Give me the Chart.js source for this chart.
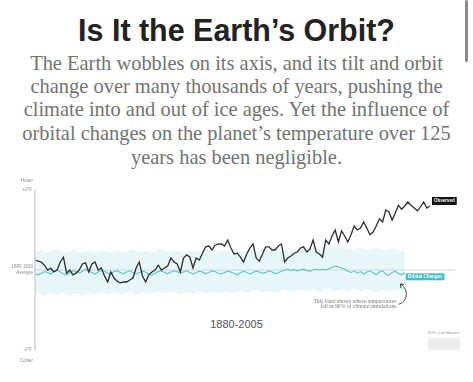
<!DOCTYPE html>
<html><head><meta charset="utf-8">
<script src="https://cdn.jsdelivr.net/npm/chart.js@4"></script>
<style>
html,body{margin:0;padding:0;background:#fff;width:473px;height:382px;overflow:hidden}
#wrap{position:relative;width:473px;height:382px}
.t{position:absolute;left:0;width:473px;text-align:center;white-space:nowrap}
#title{top:12px;font-family:"Liberation Sans",Arial,sans-serif;font-weight:bold;color:#222;line-height:1}
.sub{font-family:"Liberation Serif","DejaVu Serif",serif;color:#737373;line-height:1}
#period{top:318px;font-family:"Liberation Sans",Arial,sans-serif;font-size:11px;color:#555}
#scroll{position:absolute;left:465px;top:0;width:3px;height:62px;background:#8a8a8a;border-radius:2px}
canvas{position:absolute;left:0;top:0}
</style></head>
<body><div id="wrap">
<div id="title" class="t">Is It the Earth’s Orbit?</div>
<div class="t sub" id="s1">The Earth wobbles on its axis, and its tilt and orbit</div>
<div class="t sub" id="s2">change over many thousands of years, pushing the</div>
<div class="t sub" id="s3">climate into and out of ice ages. Yet the influence of</div>
<div class="t sub" id="s4">orbital changes on the planet’s temperature over 125</div>
<div class="t sub" id="s5">years has been negligible.</div>
<div id="period" class="t">1880-2005</div>
<div id="scroll"></div>
<canvas id="c" width="473" height="382"></canvas>
</div>
<script>
// ---- data ----
const startYear = 1880, endYear = 2005;
const years = [];
for (let y = startYear; y <= endYear; y++) years.push(String(y));

// Observed temperature, °F relative to 1880-1910 average
const observed = [
 0.25,0.22,0.2,0.12,0,0.05,-0.05,0,0.2,0.32,
 -0.08,0,-0.12,-0.08,0,0.15,0.18,-0.05,0.15,0.2,
 0,0.05,-0.15,-0.3,-0.05,-0.2,-0.28,-0.32,-0.3,-0.3,
 -0.25,-0.2,0.05,0.2,-0.15,-0.3,-0.12,-0.05,0,0.12,
 0,0.05,0.1,0.3,0.2,0.15,-0.05,0.3,0.38,0.32,
 0.05,0.3,0.25,0.42,0.58,0.6,0.5,0.62,0.65,0.65,
 0.6,0.75,0.55,0.4,0.42,0.32,0.2,0.4,0.55,0.65,
 0.3,0.22,0.4,0.58,0.58,0.5,0.5,0.6,0.65,0.2,
 0.3,0.35,0.42,0.45,0.55,0.58,0.45,0.52,0.75,0.45,
 0.4,0.32,0.75,0.65,0.85,1.0,0.7,0.98,0.85,0.7,
 0.88,1.1,1.0,1.05,1.2,1.05,0.88,0.95,1.1,1.28,
 1.2,1.5,1.45,1.25,1.42,1.62,1.52,1.6,1.7,1.62,
 1.55,1.48,1.58,1.7,1.55,1.6
];

// Modelled temperature from orbital changes alone (1880-1997)
const orbital = [
 -0.1,-0.12,-0.08,-0.04,-0.06,-0.1,-0.02,0.0,-0.05,-0.1,
 -0.12,-0.06,-0.02,-0.04,-0.08,-0.03,0.02,-0.02,-0.06,-0.1,
 -0.05,0.0,-0.03,-0.08,-0.1,-0.04,-0.02,-0.06,-0.09,-0.05,
 -0.02,-0.06,-0.1,-0.07,-0.03,-0.05,-0.1,-0.13,-0.08,-0.04,
 -0.02,-0.06,-0.09,-0.05,-0.02,-0.04,-0.08,-0.05,-0.02,-0.06,
 -0.1,-0.07,-0.03,-0.05,-0.09,-0.06,-0.02,-0.04,-0.08,-0.1,
 -0.06,-0.03,-0.05,-0.09,-0.12,-0.07,-0.03,-0.06,-0.1,-0.06,
 -0.03,-0.05,-0.08,-0.06,-0.02,-0.05,-0.09,-0.07,-0.03,0.0,
 0.02,-0.01,0.01,-0.02,0.0,0.02,-0.01,-0.03,0.0,0.02,
 0.0,0.02,0.0,0.03,0.06,0.1,0.08,0.05,0.02,-0.03,
 -0.06,-0.02,-0.08,-0.04,-0.1,-0.05,-0.02,-0.07,-0.12,-0.05,
 -0.02,-0.1,-0.13,-0.06,-0.03,-0.09,-0.12,-0.07
];

// 90% confidence band of climate simulations
const bandHigh = [
 0.45,0.48,0.5,0.47,0.44,0.46,0.5,0.52,0.49,0.46,
 0.44,0.47,0.5,0.48,0.45,0.43,0.46,0.5,0.49,0.46,
 0.48,0.51,0.49,0.45,0.44,0.47,0.5,0.48,0.45,0.47,
 0.5,0.52,0.48,0.45,0.46,0.49,0.47,0.44,0.46,0.5,
 0.52,0.49,0.46,0.48,0.51,0.49,0.46,0.44,0.47,0.5,
 0.48,0.45,0.47,0.5,0.53,0.5,0.47,0.45,0.48,0.51,
 0.49,0.46,0.48,0.52,0.5,0.47,0.45,0.48,0.5,0.47,
 0.45,0.48,0.51,0.49,0.46,0.49,0.52,0.5,0.48,0.51,
 0.53,0.55,0.52,0.5,0.53,0.56,0.58,0.55,0.52,0.5,
 0.54,0.57,0.6,0.58,0.55,0.57,0.6,0.56,0.53,0.55,
 0.52,0.5,0.53,0.56,0.54,0.51,0.49,0.52,0.55,0.53,
 0.5,0.48,0.51,0.54,0.52,0.49,0.47,0.5
];
const bandLow = [
 -0.6,-0.58,-0.62,-0.65,-0.6,-0.57,-0.6,-0.63,-0.59,-0.56,
 -0.6,-0.64,-0.61,-0.58,-0.6,-0.63,-0.6,-0.57,-0.59,-0.62,
 -0.58,-0.55,-0.58,-0.61,-0.59,-0.56,-0.58,-0.62,-0.6,-0.57,
 -0.55,-0.58,-0.61,-0.58,-0.55,-0.57,-0.6,-0.58,-0.55,-0.53,
 -0.56,-0.59,-0.57,-0.54,-0.56,-0.59,-0.61,-0.58,-0.55,-0.57,
 -0.6,-0.57,-0.54,-0.56,-0.59,-0.56,-0.53,-0.55,-0.58,-0.56,
 -0.53,-0.55,-0.58,-0.56,-0.53,-0.51,-0.54,-0.57,-0.55,-0.52,
 -0.5,-0.53,-0.56,-0.54,-0.51,-0.53,-0.56,-0.54,-0.51,-0.49,
 -0.52,-0.55,-0.53,-0.5,-0.48,-0.51,-0.54,-0.52,-0.49,-0.51,
 -0.54,-0.52,-0.49,-0.47,-0.5,-0.53,-0.51,-0.48,-0.5,-0.53,
 -0.5,-0.47,-0.5,-0.53,-0.51,-0.48,-0.5,-0.53,-0.55,-0.52,
 -0.49,-0.51,-0.54,-0.52,-0.49,-0.51,-0.54,-0.52
];

const yTickValues = [2, 0, -2];
const yTickLabels = [["Hotter", "+2°F"], ["1880-1910", "Average"], ["-2°F", "Colder"]];
const annotationLines = ["This band shows where temperatures", "fall in 90% of climate simulations"];

// ---- fit header text widths ----
function fit(id, targetW, family, weight, top) {
  const el = document.getElementById(id);
  const cv = document.createElement('canvas').getContext('2d');
  cv.font = weight + ' 100px ' + family;
  const w = cv.measureText(el.textContent).width;
  el.style.fontSize = (100 * targetW / w) + 'px';
  el.style.top = top + 'px';
}
fit('title', 317, '"Liberation Sans"', 'bold', 15);
const subFS = (() => {
  const cv = document.createElement('canvas').getContext('2d');
  cv.font = '100px "Liberation Serif"';
  return 100 * 413 / cv.measureText(document.getElementById('s1').textContent).width;
})();
const subTops = [53, 76, 99, 123, 147];
['s1','s2','s3','s4','s5'].forEach((id, i) => {
  const el = document.getElementById(id);
  el.style.fontSize = subFS + 'px';
  el.style.top = subTops[i] + 'px';
});

// ---- decorations plugin ----
const deco = {
  id: 'deco',
  beforeDatasetsDraw(chart) {
    const ctx = chart.ctx, xs = chart.scales.x, ys = chart.scales.y;
    ctx.save();
    ctx.strokeStyle = '#cfcfcf'; ctx.lineWidth = 0.8;
    ctx.beginPath(); ctx.moveTo(xs.left, ys.getPixelForValue(0)); ctx.lineTo(xs.right + 25, ys.getPixelForValue(0)); ctx.stroke();
    ctx.restore();
  },
  afterDatasetsDraw(chart) {
    const ctx = chart.ctx, xs = chart.scales.x, ys = chart.scales.y;
    const x0 = xs.left;
    ctx.save();
    // vertical axis
    ctx.strokeStyle = '#d0d0d0'; ctx.lineWidth = 1.5;
    ctx.beginPath(); ctx.moveTo(x0, ys.getPixelForValue(2)); ctx.lineTo(x0, ys.getPixelForValue(-2)); ctx.stroke();
    // y labels
    ctx.fillStyle = '#8a8a8a'; ctx.font = '4.5px "Liberation Sans"'; ctx.textAlign = 'right'; ctx.textBaseline = 'middle';
    yTickValues.forEach((v, i) => {
      const py = ys.getPixelForValue(v);
      const lab = yTickLabels[i];
      if (v > 0) { ctx.fillText(lab[0], x0 - 2, py - 9); ctx.fillText(lab[1], x0 - 3, py); }
      else if (v < 0) { ctx.fillText(lab[0], x0 - 3, py); ctx.fillText(lab[1], x0 - 2, py + 11); }
      else { ctx.fillText(lab[0], x0 - 2, py - 3.5); ctx.fillText(lab[1], x0 - 2, py + 2.5); }
    });
    // Observed label
    const mo = chart.getDatasetMeta(3).data;
    const lo = mo[mo.length - 1];
    ctx.font = 'bold 4.5px "Liberation Sans"'; ctx.textAlign = 'left';
    let tw = ctx.measureText('Observed').width;
    ctx.fillStyle = '#111';
    ctx.fillRect(lo.x + 2, lo.y - 9, tw + 4, 8);
    ctx.fillStyle = '#fff'; ctx.fillText('Observed', lo.x + 4, lo.y - 5);
    // Orbital label
    const mr = chart.getDatasetMeta(2).data;
    const lr = mr[mr.length - 1];
    tw = ctx.measureText('Orbital Changes').width;
    ctx.fillStyle = '#3fc1cd';
    ctx.fillRect(lr.x + 1, lr.y + 0.5, tw + 4, 7);
    ctx.fillStyle = '#fff'; ctx.fillText('Orbital Changes', lr.x + 3, lr.y + 4);
    // annotation text
    const ax = xs.getPixelForValue(years.indexOf('1995'));
    const ay = ys.getPixelForValue(-0.78);
    ctx.font = '5.6px "Liberation Serif"'; ctx.fillStyle = '#7a7a7a'; ctx.textAlign = 'right';
    ctx.fillText(annotationLines[0], ax - 2, ay);
    ctx.fillText(annotationLines[1], ax - 2, ay + 5.5);
    // curved arrow
    ctx.strokeStyle = '#333'; ctx.lineWidth = 0.9;
    const sx = ax, sy = ay + 3;
    const ex = ax + 1, ey = ys.getPixelForValue(-0.35);
    ctx.beginPath(); ctx.moveTo(sx, sy);
    ctx.bezierCurveTo(sx + 8, sy - 1, sx + 12, ey + 6, ex + 1, ey);
    ctx.stroke();
    ctx.beginPath(); ctx.moveTo(ex + 1, ey); ctx.lineTo(ex + 1.5, ey + 4); ctx.moveTo(ex + 1, ey); ctx.lineTo(ex + 4.5, ey + 0.5); ctx.stroke();
    // confidence legend
    ctx.font = '4.3px "Liberation Sans"'; ctx.fillStyle = '#999'; ctx.textAlign = 'left';
    ctx.fillText('90% Confidence', 428, 333);
    ctx.fillStyle = '#eeeeee'; ctx.fillRect(428, 338, 32, 12);
    ctx.restore();
  }
};

new Chart(document.getElementById('c'), {
  type: 'line',
  data: {
    labels: years,
    datasets: [
      { data: bandHigh, borderWidth: 0, pointRadius: 0, fill: '+1', backgroundColor: '#e6f6f9', borderColor: 'rgba(0,0,0,0)', order: 3 },
      { data: bandLow, borderWidth: 0, pointRadius: 0, fill: false, borderColor: 'rgba(0,0,0,0)', order: 4 },
      { data: orbital, borderColor: '#5cc3cd', borderWidth: 1.1, pointRadius: 0, fill: false, tension: 0, order: 1 },
      { data: observed, borderColor: '#2e2e2e', borderWidth: 1.3, pointRadius: 0, fill: false, tension: 0, order: 0 }
    ]
  },
  options: {
    responsive: false, animation: false, devicePixelRatio: 1,
    layout: { padding: { left: 35, right: 43, top: 190, bottom: 32 } },
    plugins: { legend: { display: false }, tooltip: { enabled: false }, filler: { drawTime: 'beforeDatasetsDraw' } },
    scales: {
      x: { display: false, offset: false },
      y: { display: false, min: -2, max: 2 }
    }
  },
  plugins: [deco]
});
</script>
</body></html>
